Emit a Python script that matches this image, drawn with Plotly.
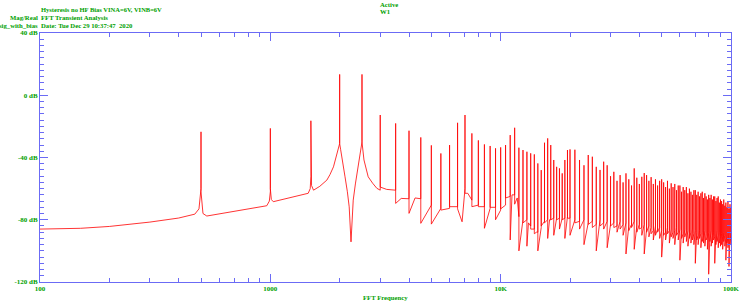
import plotly.graph_objects as go

# ---------------- data ----------------
# Spectrum floor points between the spikes (Hz, dB)
floor_freq = [100, 150, 200, 300, 400, 470, 490, 510, 530, 965, 990, 1010, 1030,
              1460, 1490, 1510, 1540,
              1640, 1760, 1815, 1880, 1915, 1955, 2020, 2060, 2110, 2160, 2200,
              2240, 2290, 2340, 2380, 2410, 2440, 2470, 2550, 2600, 2660, 2780,
              2900, 3200, 3450, 3700, 4250, 6800, 7200, 11200,
              11800, 13200, 14300, 16300]
floor_db = [-86, -85.5, -84.3, -81.5, -78.9, -76.4, -73, -76, -77.6, -71, -68, -67, -68.4,
            -63, -60, -58, -61,
            -58.5, -54.5, -51, -46, -41, -35.2, -35, -44, -52.4, -62, -71.7,
            -94.2, -67.4, -57, -50, -43.8, -38, -33, -41.6, -47, -52.4, -56.5,
            -59.8, -60.5, -61, -66.3, -66, -81.3, -63, -64,
            -66, -82, -88, -80]

# Harmonic spikes: frequency (kHz), spike top, level just before, level just after (dB)
harm_freq_khz = [0.5, 1, 1.5, 2, 2.5, 3, 3.5, 4, 4.5, 5,
                 5.5, 6, 6.5, 7, 7.5, 8, 8.5, 9, 9.5, 10,
                 10.5, 11, 11.5, 12, 12.5, 13, 13.5, 14, 14.5, 15,
                 15.5, 16, 16.5, 17, 17.5, 18, 18.5, 19, 19.5, 20,
                 21, 22, 23, 24, 25, 26, 27, 28, 29, 30,
                 31, 32, 33, 34, 35, 36, 37, 38, 39, 40,
                 41, 42, 43, 44, 45, 46, 47, 48, 49, 50,
                 51, 52, 53, 54, 55, 56, 57, 58, 59, 60,
                 61, 62, 63, 64, 65, 66, 67, 68, 69, 70,
                 71, 72, 73, 74, 75, 76, 77, 78, 79, 80,
                 81, 82, 83, 84, 85, 86, 87, 88, 89, 90,
                 91, 92, 93, 94, 95, 96, 97, 98, 99, 100]
harm_top_db = [-23.5, -21.3, -16.4, 13.4, 13.4, -12.7, -18.1, -22.8, -27.1, -32.2,
               -37.4, -32, -17.7, -12.7, -24.5, -29, -31.6, -32.6, -34.1, -33.5,
               -32, -25.6, -20.9, -33.7, -35.2, -36.3, -37.3, -38, -43.8, -48.1,
               -30.5, -27.7, -32, -41.6, -46, -47, -50.2, -41.6, -35.2, -34.8,
               -35, -41.6, -45, -38.4, -39.5, -46, -48, -42.7, -45, -52,
               -49.2, -55, -51.3, -56, -50.2, -54, -58, -47, -53, -57,
               -52.4, -50, -51.3, -55, -52.6, -57, -54, -58, -55, -54,
               -56, -59, -55, -60, -56.6, -59, -57, -61, -58, -58,
               -62, -59, -61, -59, -63, -60, -62, -64, -61, -61,
               -64, -62, -65, -63, -62, -66, -63, -65, -67, -64,
               -66, -64, -67, -65, -65, -68, -66, -65, -69, -67,
               -68, -70, -67, -71, -69, -72, -68, -73, -70, -72]
harm_base_db = [-60, -62, -52, -31, -30, -61, -61, -66.5, -66.5, -70.6,
                -72.7, -72.7, -71.6, -60, -67.4, -70.6, -71.6, -72.7, -72, -73.8,
                -70.6, -65, -64, -78, -80, -80, -84, -86, -88, -85,
                -81, -80, -80, -79, -79, -79, -79, -79, -78, -79,
                -80, -81, -80, -82, -81, -83, -80, -82, -81, -83,
                -82, -84, -81, -83, -82, -84, -83, -81, -84, -83,
                -85, -83, -86, -84, -85, -87, -84, -86, -85, -87,
                -86, -88, -85, -87, -86, -88, -87, -85, -88, -86,
                -87, -89, -86, -88, -87, -89, -88, -86, -89, -87,
                -88, -90, -87, -89, -88, -90, -87, -89, -91, -88,
                -89, -87, -90, -88, -91, -89, -87, -90, -88, -91,
                -89, -91, -88, -90, -92, -89, -91, -88, -90, -89]
harm_low_db = [-62, -60, -54, -31, -30, -59, -69.5, -75.9, -82.3, -82.8,
               -73.8, -71.6, -73, -63, -71.6, -71.6, -85.5, -72, -80, -73,
               -66, -93, -70, -100, -82, -97, -86, -89, -100, -84,
               -82, -92, -80, -90, -80, -86, -80, -92, -79, -90,
               -82, -86, -96, -83, -85, -100, -84, -86, -98, -84,
               -85, -88, -86, -90, -102, -87, -85, -99, -88, -86,
               -90, -102, -88, -91, -89, -93, -90, -88, -92, -104,
               -90, -93, -89, -95, -91, -92, -96, -90, -93, -106,
               -92, -95, -91, -94, -97, -92, -95, -93, -96, -108,
               -93, -96, -92, -98, -94, -95, -97, -93, -99, -115,
               -94, -97, -95, -93, -108, -96, -94, -98, -95, -97,
               -96, -99, -94, -97, -106, -95, -98, -110, -96, -93]

y_tick_vals = [-120, -80, -40, 0, 40]
y_tick_text = ["-120 dB", "-80 dB", "-40 dB", "0 dB", "40 dB"]
x_tick_vals = [100, 1000, 10000, 100000]
x_tick_text = ["100", "1000", "10K", "100K"]
x_minor_vals = [200, 300, 400, 500, 600, 700, 800, 900,
                2000, 3000, 4000, 5000, 6000, 7000, 8000, 9000,
                20000, 30000, 40000, 50000, 60000, 70000, 80000, 90000]

# ---------------- assemble the trace ----------------
pts = [(f, 0, d) for f, d in zip(floor_freq, floor_db)]
for fk, top, base, low in zip(harm_freq_khz, harm_top_db, harm_base_db, harm_low_db):
    f = fk * 1000
    pts += [(f, 0, base), (f, 1, top), (f, 2, low)]
pts.sort(key=lambda p: (p[0], p[1]))
xs = [p[0] for p in pts]
ys = [p[2] for p in pts]

GREEN = "#00a000"
BLUE = "#6b6bf5"
FONT = "Liberation Serif"

fig = go.Figure()
fig.add_trace(go.Scatter(x=xs, y=ys, mode="lines",
                         line=dict(color="#ff0000", width=0.8),
                         hoverinfo="skip", showlegend=False))

axis_common = dict(showline=True, linecolor=BLUE, linewidth=1, mirror="ticks",
                   ticks="inside", tickcolor=BLUE, tickwidth=1, ticklen=8,
                   showgrid=False, zeroline=False, automargin=False,
                   tickfont=dict(family=FONT, size=7, color=GREEN, weight="bold"))

fig.update_layout(
    width=740, height=302,
    margin=dict(l=40, r=9, t=33, b=20, autoexpand=False),
    paper_bgcolor="white", plot_bgcolor="white",
    xaxis=dict(type="log", range=[2, 5], tickmode="array",
               tickvals=x_tick_vals, ticktext=x_tick_text,
               minor=dict(tickmode="array", tickvals=x_minor_vals, ticklen=4,
                          tickcolor=BLUE, tickwidth=1, ticks="inside", showgrid=False),
               **axis_common),
    yaxis=dict(range=[-120, 40], tickmode="array",
               tickvals=y_tick_vals, ticktext=y_tick_text,
               minor=dict(tickmode="linear", tick0=0, dtick=4, ticklen=4,
                          tickcolor=BLUE, tickwidth=1, ticks="inside", showgrid=False),
               **axis_common),
)

def px_x(px):
    return (px - 40) / 691.0

def px_y(py):
    return (282 - py) / 249.0

texts = [
    ("Hysteresis no HF Bias VINA=6V, VINB=6V", 40, 10, "left", 6.5),
    ("FFT Transient Analysis", 40, 17.5, "left", 6.7),
    ("Date: Tue Dec 29 10:37:47  2020", 40, 25, "left", 6.7),
    ("Mag/Real", 39, 17.5, "right", 6.7),
    ("sig_with_bias", 39, 25, "right", 6.7),
    ("Active", 379, 4.5, "left", 6.7),
    ("W1", 379, 11.5, "left", 6.7),
    ("FFT Frequency", 385.5, 297, "center", 6.7),
]
for t, x, y, anc, sz in texts:
    fig.add_annotation(text=t, xref="paper", yref="paper", x=px_x(x), y=px_y(y),
                       xanchor=anc, yanchor="middle", showarrow=False,
                       borderpad=0,
                       font=dict(family=FONT, size=sz, color=GREEN, weight="bold"))

fig.write_html("out.html", config={"displayModeBar": False})
